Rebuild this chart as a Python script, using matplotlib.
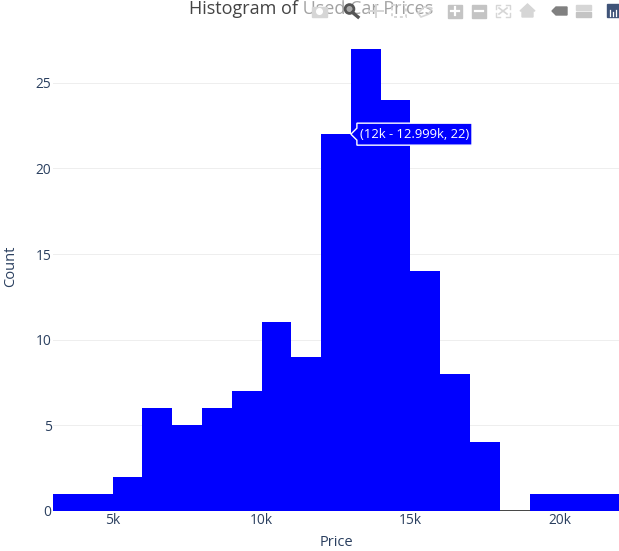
#histogram of used car prices, plotly look
import matplotlib
matplotlib.use("Agg")
import matplotlib.pyplot as plt
from matplotlib.patches import Polygon, Rectangle, Circle

plt.rcParams['font.family'] = ['Open Sans', 'DejaVu Sans']

#data
bin_starts = [3000, 4000, 5000, 6000, 7000, 8000, 9000, 10000, 11000, 12000,
              13000, 14000, 15000, 16000, 17000, 18000, 19000, 20000, 21000]
counts = [1, 1, 2, 6, 5, 6, 7, 11, 9, 22, 27, 24, 14, 8, 4, 0, 1, 1, 1]
x_ticks = [5000, 10000, 15000, 20000]
x_labels = ["5k", "10k", "15k", "20k"]
y_ticks = [0, 5, 10, 15, 20, 25]
hover_text = "(12k - 12.999k, 22)"

TEXT = "#2a3f5f"
W, H = 619, 551

fig = plt.figure(figsize=(W / 100, H / 100), dpi=100)
ax = fig.add_axes([53 / W, (H - 510.8) / H, (W - 53) / W, 486.8 / H])

#the bars
ax.bar(bin_starts, counts, width=1000, align="edge", color="#0000ff", linewidth=0, zorder=2)
ax.set_xlim(3000, 22000)
ax.set_ylim(0, 486.8 / 17.12)

#axes and grid
ax.set_xticks(x_ticks)
ax.set_xticklabels(x_labels)
ax.set_yticks(y_ticks)
ax.grid(axis="y", color="#eeeeee", linewidth=0.72, zorder=0)
ax.grid(axis="x", visible=False)
ax.axhline(0, color="#444444", linewidth=1.4, zorder=1)
ax.tick_params(axis="x", length=0, labelsize=9.9, labelcolor=TEXT, pad=1.6)
ax.tick_params(axis="y", length=0, labelsize=9.9, labelcolor=TEXT, pad=1)
for s in ax.spines.values():
    s.set_visible(False)

#overlay in pixel coordinates for axis titles, title and hover box
top = fig.add_axes([0, 0, 1, 1], zorder=5)
top.set_xlim(0, W)
top.set_ylim(H, 0)
top.axis("off")
top.patch.set_alpha(0)

top.text(336, 543, "Price", fontsize=10.5, color=TEXT, ha="center", va="center")
top.text(10.5, 266, "Count", fontsize=10.5, color=TEXT, ha="center", va="center", rotation=90)
top.text(311.5, 13.5, "Histogram of Used Car Prices", fontsize=13.0, color="#444444",
         ha="center", va="baseline")

#hover label
hx, hy = ax.transData.transform((13000, 22))
hy = H - hy
top.add_patch(Polygon([(hx, hy), (hx + 6, hy - 6), (hx + 6, hy - 11), (472, hy - 11),
                       (472, hy + 11), (hx + 6, hy + 11), (hx + 6, hy + 6)],
                      closed=True, facecolor="#0000ff", edgecolor="white", linewidth=1))
top.text(hx + 9, hy, hover_text, fontsize=9.4, color="white", ha="left", va="center")

#modebar gets its own axes so it sits over the title
bar = fig.add_axes([0, 0, 1, 1], zorder=6)
bar.set_xlim(0, W)
bar.set_ylim(H, 0)
bar.axis("off")
bar.patch.set_alpha(0)

#modebar background fades the title under it
bar.add_patch(Rectangle((303, 0), W - 303, 22, color="white", alpha=0.5))

#modebar icons
GREY = "#c4c4c4"
PALE = "#d6d6d6"
LOGO = "#3f5378"
iy = 11

#camera
bar.add_patch(Rectangle((312, iy - 4), 15, 10, color=PALE))
bar.add_patch(Circle((319.5, iy + 0.5), 2.8, color="white"))
#zoom
bar.add_patch(Circle((349.5, iy - 2), 4.4, facecolor="#aaaaaa", edgecolor="#555555", linewidth=2))
bar.plot([352.5, 358], [iy + 1.5, iy + 6], color="#555555", linewidth=2.4)
#pan
bar.plot([376, 376], [iy - 6, iy + 6], color=PALE, linewidth=1.4)
bar.plot([369, 383], [iy, iy], color=PALE, linewidth=1.4)
#box select
bar.add_patch(Rectangle((392, iy - 6), 14, 12, facecolor="none", edgecolor=PALE,
                        linewidth=1.4, linestyle=(0, (1.5, 1.5))))
#lasso
bar.add_patch(Polygon([(418, iy + 2), (424, iy - 4), (432, iy - 3), (429, iy + 3), (421, iy + 6)],
                      closed=True, facecolor="none", edgecolor=PALE, linewidth=1.2))
#zoom in, zoom out
bar.add_patch(Rectangle((448, iy - 6.5), 14, 13, color=GREY))
bar.plot([451, 459], [iy, iy], color="white", linewidth=1.6)
bar.plot([455, 455], [iy - 4, iy + 4], color="white", linewidth=1.6)
bar.add_patch(Rectangle((472, iy - 6.5), 14, 13, color=GREY))
bar.plot([475, 483], [iy, iy], color="white", linewidth=1.6)
#autoscale, corners and a cross
for cx, sx in [(496, 1), (510, -1)]:
    for cy, sy in [(iy - 6, 1), (iy + 6, -1)]:
        bar.plot([cx + 4 * sx, cx, cx], [cy, cy, cy + 4 * sy], color=PALE, linewidth=1)
bar.plot([499, 507], [iy - 3, iy + 3], color=PALE, linewidth=1.2)
bar.plot([507, 499], [iy - 3, iy + 3], color=PALE, linewidth=1.2)
#home
bar.add_patch(Polygon([(520, iy), (527.5, iy - 7), (535, iy), (533, iy), (533, iy + 6),
                       (522, iy + 6), (522, iy)], closed=True, color=PALE))
#spikelines, compare
bar.add_patch(Polygon([(552, iy), (556, iy - 4), (567, iy - 4), (567, iy + 4), (556, iy + 4)],
                      closed=True, color="#808080"))
bar.add_patch(Rectangle((576, iy - 6), 15, 5, color=PALE))
bar.add_patch(Rectangle((576, iy + 1), 15, 5, color=GREY))
#plotly logo
bar.add_patch(Rectangle((607, iy - 7), 12, 13, color=LOGO))
bar.plot([610, 610], [iy - 1, iy + 5], color="white", linewidth=0.9)
bar.plot([613, 613], [iy + 1, iy + 5], color="white", linewidth=0.9)
bar.plot([616, 616], [iy - 1, iy + 5], color="white", linewidth=0.9)

fig.savefig("out.png", dpi=100)
